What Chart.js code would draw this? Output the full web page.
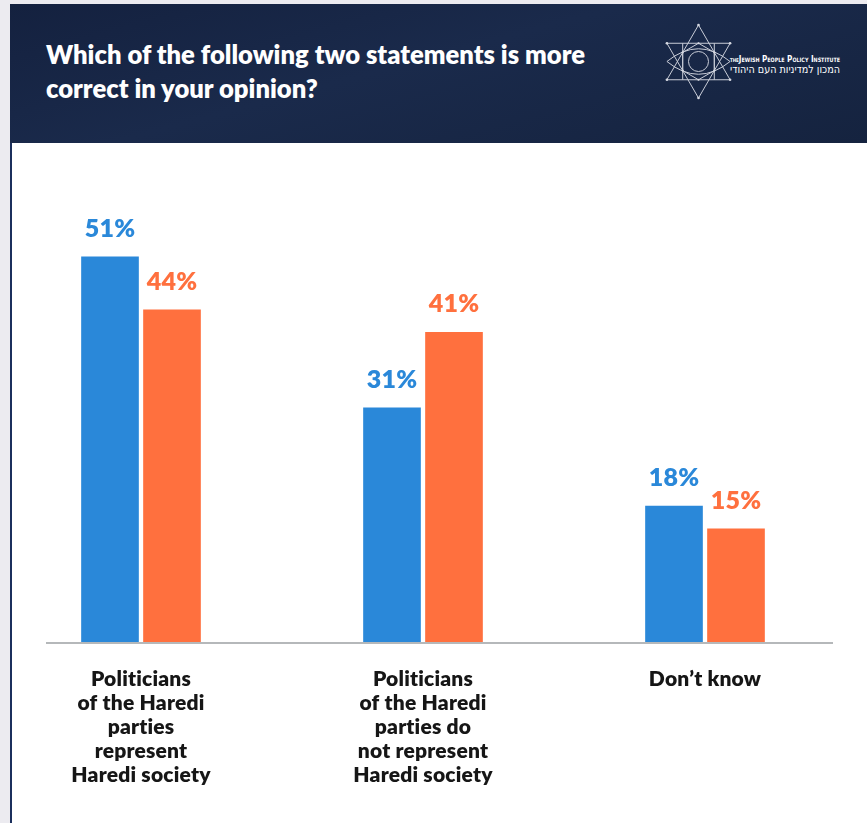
<!DOCTYPE html>
<html>
<head>
<meta charset="utf-8">
<script src="https://cdn.jsdelivr.net/npm/chart.js@4.4.1/dist/chart.umd.min.js"></script>
<style>
  html, body { margin: 0; padding: 0; }
  body { width: 867px; height: 823px; background: #ecebf0; position: relative; overflow: hidden;
    font-family: Lato, "Open Sans", sans-serif; font-variant-ligatures: none; }
  #header { position: absolute; left: 10px; top: 4px; width: 857px; height: 139px;
    background: linear-gradient(165deg, #14213f 0%, #1a2a4b 45%, #15233f 100%); }
  #title { position: absolute; left: 36px; top: 33px; color: #ffffff; font-weight: 800;
    font-size: 25.6px; line-height: 34px; margin: 0; }
  #logo { position: absolute; left: 640px; top: 12px; }
  #panel { position: absolute; left: 10px; top: 143px; width: 855px; height: 680px;
    background: #ffffff; border-left: 2px solid #1b2f5c; }
  #chart { position: absolute; left: 0; top: 143px; }
</style>
</head>
<body>
<div id="header">
  <h1 id="title">Which of the following two statements is more<br>correct in your opinion?</h1>
  <svg id="logo" width="210" height="95" viewBox="0 0 210 95">
    <g fill="none" stroke="#c9cdd8" stroke-width="1">
      <polygon points="48.5,9 80.1,63.75 16.9,63.75"/>
      <polygon points="48.5,82 80.1,27.25 16.9,27.25"/>
      <polygon points="48.5,27.25 64.3,36.4 64.3,54.6 48.5,63.75 32.7,54.6 32.7,36.4"/>
      <circle cx="48.5" cy="45.5" r="10"/>
      <path d="M16.9,45.5 Q48.5,20 80.1,45.5 Q48.5,71 16.9,45.5 Z"/>
      <line x1="32.7" y1="27.25" x2="32.7" y2="63.75"/>
      <line x1="64.3" y1="27.25" x2="64.3" y2="63.75"/>
    </g>
    <g fill="#d6d9e2">
      <circle cx="48.5" cy="9" r="1.3"/><circle cx="48.5" cy="82" r="1.3"/>
      <circle cx="16.9" cy="27.25" r="1.3"/><circle cx="80.1" cy="27.25" r="1.3"/>
      <circle cx="16.9" cy="63.75" r="1.3"/><circle cx="80.1" cy="63.75" r="1.3"/>
      <circle cx="32.7" cy="36.4" r="1.1"/><circle cx="64.3" cy="36.4" r="1.1"/>
      <circle cx="32.7" cy="54.6" r="1.1"/><circle cx="64.3" cy="54.6" r="1.1"/>
      <circle cx="48.5" cy="27.25" r="1.1"/><circle cx="48.5" cy="63.75" r="1.1"/>
    </g>
    <text x="80" y="46" fill="#ffffff" font-family="'DejaVu Sans Condensed', 'DejaVu Sans', sans-serif"
      font-size="9" font-weight="700" style="font-variant: small-caps"
      textLength="110" lengthAdjust="spacingAndGlyphs"><tspan font-size="5">THE</tspan>Jewish People Policy Institute</text>
    <text x="80" y="57" fill="#ffffff" font-family="'DejaVu Sans Condensed', 'DejaVu Sans', sans-serif"
      font-size="11" textLength="110" lengthAdjust="spacingAndGlyphs">המכון למדיניות העם היהודי</text>
  </svg>
</div>
<div id="panel"></div>
<canvas id="chart" width="867" height="680"></canvas>
<script>
// Answer categories (multi-line tick labels)
const categories = [
  ['Politicians', 'of the Haredi', 'parties', 'represent', 'Haredi society'],
  ['Politicians', 'of the Haredi', 'parties do', 'not represent', 'Haredi society'],
  ['Don\u2019t know']
];
// Percent of respondents, two surveyed groups
const seriesBlue = [51, 31, 18];
const seriesOrange = [44, 41, 15];
const seriesNames = ['Group 1', 'Group 2'];

const BLUE = '#2a88d9';
const ORANGE = '#ff703e';

// Slight tracking keeps the "ti" pairs as separate letters
const noLigatures = {
  id: 'noLigatures',
  beforeDraw(chart) {
    chart.ctx.letterSpacing = '0.2px';
  }
};

// Percentage labels above every bar
const valueLabels = {
  id: 'valueLabels',
  afterDatasetsDraw(chart) {
    const ctx = chart.ctx;
    ctx.save();
    ctx.font = '800 25px Lato, sans-serif';
    ctx.textAlign = 'center';
    ctx.textBaseline = 'alphabetic';
    chart.data.datasets.forEach((ds, i) => {
      const meta = chart.getDatasetMeta(i);
      ctx.fillStyle = ds.backgroundColor;
      meta.data.forEach((bar, j) => {
        ctx.fillText(ds.data[j] + '%', bar.x, bar.y - 20);
      });
    });
    ctx.restore();
  }
};

// Grey baseline under the bars
const baseline = {
  id: 'baseline',
  beforeDatasetsDraw(chart) {
    const ctx = chart.ctx;
    const y = chart.scales.y.getPixelForValue(0);
    ctx.save();
    ctx.fillStyle = '#b5b8ba';
    ctx.fillRect(46, y, 787, 2);
    ctx.restore();
  }
};

new Chart(document.getElementById('chart'), {
  type: 'bar',
  data: {
    labels: categories,
    datasets: [
      { label: seriesNames[0], data: seriesBlue, backgroundColor: BLUE },
      { label: seriesNames[1], data: seriesOrange, backgroundColor: ORANGE }
    ]
  },
  options: {
    responsive: false,
    animation: false,
    devicePixelRatio: 1,
    barThickness: 62,
    maxBarThickness: 57,
    layout: { padding: { left: 0, right: 21, top: 46, bottom: 0 } },
    plugins: {
      legend: { display: false },
      tooltip: { enabled: false }
    },
    scales: {
      x: {
        grid: { display: false, drawTicks: false },
        border: { display: false },
        ticks: {
          color: '#161616',
          font: { family: 'Lato', size: 21, weight: '800', lineHeight: '24px' },
          padding: 25,
          maxRotation: 0,
          autoSkip: false
        },
        afterFit(scale) { scale.height = 181; }
      },
      y: {
        display: false,
        min: 0,
        max: 60
      }
    }
  },
  plugins: [noLigatures, baseline, valueLabels]
});
</script>
</body>
</html>
